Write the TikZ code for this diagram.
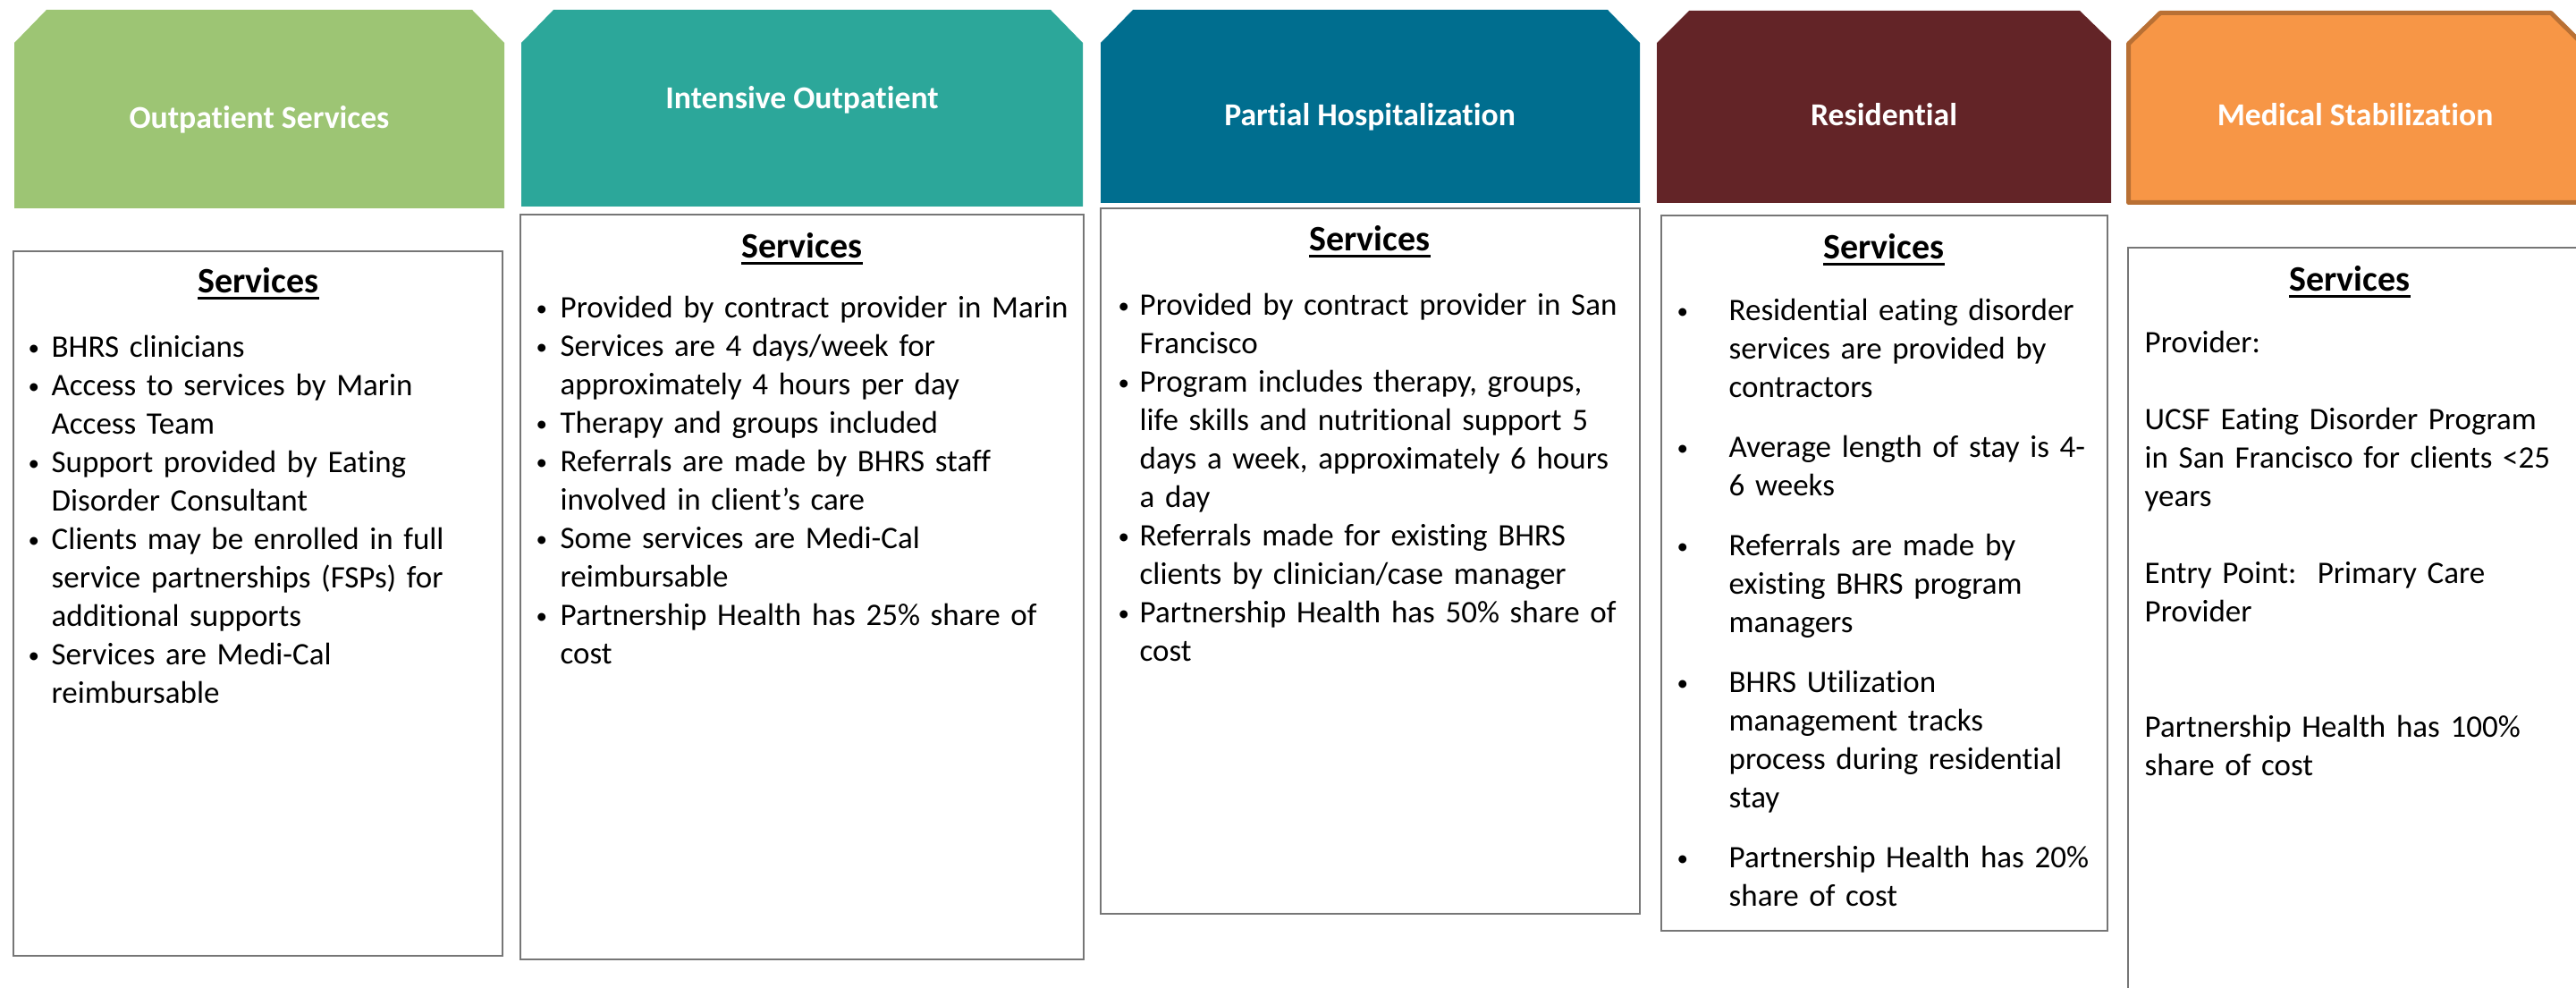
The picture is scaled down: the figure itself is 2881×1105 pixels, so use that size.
\documentclass[tikz,border=0pt]{standalone}
\usepackage{fontspec}
\setmainfont{Carlito}[Ligatures=NoCommon]
\definecolor{hgreen}{RGB}{157,197,116}
\definecolor{hteal}{RGB}{44,167,154}
\definecolor{hblue}{RGB}{0,110,143}
\definecolor{hmaroon}{RGB}{99,36,39}
\definecolor{horange}{RGB}{247,150,70}
\definecolor{horangeline}{RGB}{185,112,52}
\definecolor{boxgray}{RGB}{118,118,118}
\newcommand\bul[2]{\par\hangindent=#1\hangafter=1\noindent\makebox[#1][l]{\rule{0pt}{9.5pt}\raisebox{0.6pt}{\fontsize{7.5pt}{8pt}\selectfont\textbullet}}#2}
\newcommand\ulhead[1]{\setbox0\hbox{#1}\rlap{\rule[-2.1pt]{\wd0}{1pt}}\box0}
\tikzset{
  hdrtext/.style={text=white, anchor=base, inner sep=0pt, font=\fontsize{10.7pt}{12.8pt}\selectfont\bfseries},
  svchead/.style={anchor=base, inner sep=0pt, font=\fontsize{12pt}{14.4pt}\selectfont\bfseries},
  bodytext/.style={anchor=north west, inner sep=0pt, align=left, text width=200pt, font=\fontsize{10.5pt}{12.9pt}\selectfont},
  boxline/.style={draw=boxgray, line width=0.75pt}
}
\begin{document}
\begin{tikzpicture}[x=0.3pt,y=-0.3pt]
\useasboundingbox (0,0) rectangle (2881,1105);
\clip (0,0) rectangle (2881,1105);
% headers
\fill[hgreen] (16,233) -- (16,48) -- (52,11) -- (528,11) -- (564,48) -- (564,233) -- cycle;
\fill[hteal] (583,231) -- (583,48) -- (619,11) -- (1175,11) -- (1211,48) -- (1211,231) -- cycle;
\fill[hblue] (1231,227) -- (1231,48) -- (1267,11) -- (1798,11) -- (1834,48) -- (1834,227) -- cycle;
\fill[hmaroon] (1853,227) -- (1853,48) -- (1889,12) -- (2326,12) -- (2361,46) -- (2361,227) -- cycle;
\draw[fill=horange, draw=horangeline, line width=1.5pt, line join=round] (2380.5,226.5) -- (2380.5,49) -- (2416,14.5) -- (2853,14.5) -- (2888,49) -- (2888,226.5) -- cycle;
\node[hdrtext] (h1) at (290,144) {Outpatient Services};
\node[hdrtext] (h2) at (897,122) {Intensive Outpatient};
\node[hdrtext] (h3) at (1532,141) {Partial Hospitalization};
\node[hdrtext] (h4) at (2107,141) {Residential};
\node[hdrtext] (h5) at (2634,141) {Medical Stabilization};
% boxes
\draw[boxline] (15,281) rectangle (562,1069);
\draw[boxline] (582,240) rectangle (1212,1073);
\draw[boxline] (1231,233) rectangle (1834,1022);
\draw[boxline] (1858,241) rectangle (2357,1041);
\draw[boxline] (2380,1130) -- (2380,277) -- (2900,277);
% headings
\node[svchead] (s1) at (289,328) {\ulhead{Services}};
\node[svchead] (s2) at (897,289) {\ulhead{Services}};
\node[svchead] (s3) at (1532,281) {\ulhead{Services}};
\node[svchead] (s4) at (2107,290) {\ulhead{Services}};
\node[svchead] (s5) at (2628,326) {\ulhead{Services}};
% body texts
\node[bodytext] (t1) at (31,356) {%
\bul{7.8pt}{BHRS clinicians}
\bul{7.8pt}{Access to services by Marin\newline Access Team}
\bul{7.8pt}{Support provided by Eating\newline Disorder Consultant}
\bul{7.8pt}{Clients may be enrolled in full\newline service partnerships (FSPs) for\newline additional supports}
\bul{7.8pt}{Services are Medi-Cal\newline reimbursable}\par};
\node[bodytext] (t2) at (599,312) {%
\bul{8.1pt}{Provided by contract provider in Marin}
\bul{8.1pt}{Services are 4 days/week for\newline approximately 4 hours per day}
\bul{8.1pt}{Therapy and groups included}
\bul{8.1pt}{Referrals are made by BHRS staff\newline involved in client’s care}
\bul{8.1pt}{Some services are Medi-Cal\newline reimbursable}
\bul{8.1pt}{Partnership Health has 25\% share of\newline cost}\par};
\node[bodytext] (t3) at (1250,309) {%
\bul{7.2pt}{Provided by contract provider in San\newline Francisco}
\bul{7.2pt}{Program includes therapy, groups,\newline life skills and nutritional support 5\newline days a week, approximately 6 hours\newline a day}
\bul{7.2pt}{Referrals made for existing BHRS\newline clients by clinician/case manager}
\bul{7.2pt}{Partnership Health has 50\% share of\newline cost}\par};
\node[bodytext] (t4) at (1875,315) {%
\bul{17.4pt}{Residential eating disorder\newline services are provided by\newline contractors}
\par\vspace{7.2pt}
\bul{17.4pt}{Average length of stay is 4-\newline 6 weeks}
\par\vspace{7.2pt}
\bul{17.4pt}{Referrals are made by\newline existing BHRS program\newline managers}
\par\vspace{7.2pt}
\bul{17.4pt}{BHRS Utilization\newline management tracks\newline process during residential\newline stay}
\par\vspace{7.2pt}
\bul{17.4pt}{Partnership Health has 20\%\newline share of cost}\par};
\node[bodytext] (t5) at (2398,362) {%
\rule{0pt}{9.5pt}Provider:\par\vspace{12.9pt}
UCSF Eating Disorder Program\newline in San Francisco for clients <25\newline years\par\vspace{12.9pt}
Entry Point:\ \ Primary Care\newline Provider\par\vspace{25.8pt}
Partnership Health has 100\%\newline share of cost\par};
\end{tikzpicture}
\end{document}
